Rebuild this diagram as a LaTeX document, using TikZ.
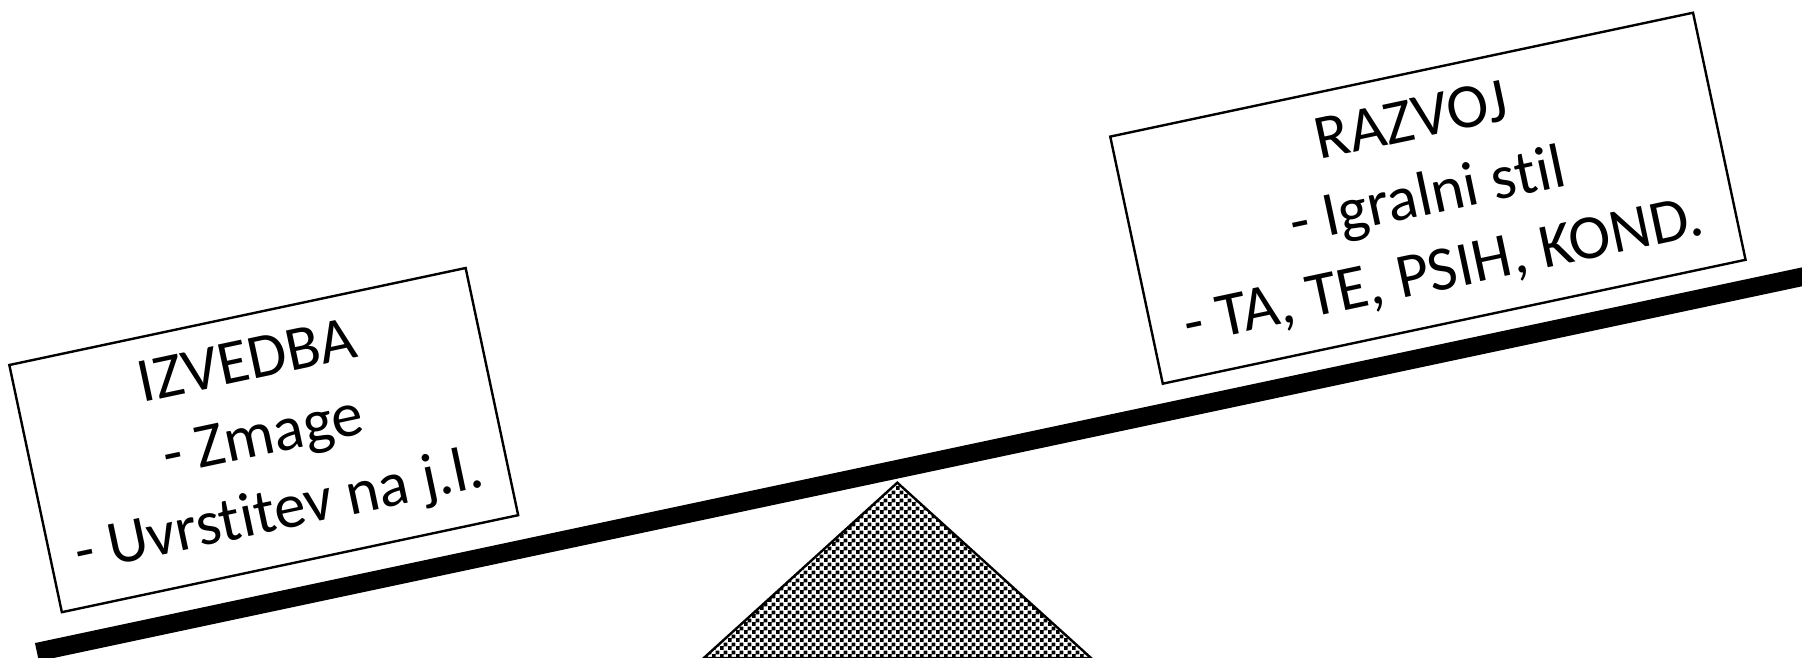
\documentclass[tikz,border=0pt]{standalone}
\usepackage{fontspec}
\setmainfont[Ligatures={NoCommon}]{Carlito}
\usetikzlibrary{patterns}
\pgfdeclarepatternformonly{smallchecker}{\pgfpointorigin}{\pgfpoint{8pt}{8pt}}{\pgfpoint{8pt}{8pt}}{%
  \pgfpathrectangle{\pgfpointorigin}{\pgfpoint{4.2pt}{4.2pt}}%
  \pgfpathrectangle{\pgfpoint{4pt}{4pt}}{\pgfpoint{4.2pt}{4.2pt}}%
  \pgfusepath{fill}}
\tikzset{
  labelbox/.style={draw=black, line width=2.4pt, fill=white, inner sep=0pt,
    rotate=12, align=center, font=\fontsize{63}{76.5}\selectfont},
  beamline/.style={line width=18.5pt, line cap=butt},
  fulcrum/.style={draw=black, line width=2.4pt, pattern=smallchecker, pattern color=black}
}
\begin{document}
\begin{tikzpicture}[x=1pt,y=1pt]
\useasboundingbox (0,0) rectangle (1802,657);
\clip (0,0) rectangle (1802,657);
% fulcrum
\coordinate (apex) at (897.3,174.3);
\coordinate (bl) at (703.8,-1);
\coordinate (br) at (1091,-1);
\draw[fulcrum] (apex) -- (br) -- (bl) -- cycle;
% beam
\coordinate (beamL) at (36.9,4.9);
\coordinate (beamR) at (1830,386.1);
\draw[beamline] (beamL) -- (beamR);
% boxes
\node[labelbox, minimum width=466.5pt, minimum height=252.7pt] (izvedba) at (263.75,216.9)
  {IZVEDBA\\- Zmage\\- Uvrstitev na j.l.};
\node[labelbox, minimum width=595.8pt, minimum height=252.6pt] (razvoj) at (1427.9,458.8)
  {RAZVOJ\\- Igralni stil\\- TA, TE, PSIH, KOND.};
\end{tikzpicture}
\end{document}
